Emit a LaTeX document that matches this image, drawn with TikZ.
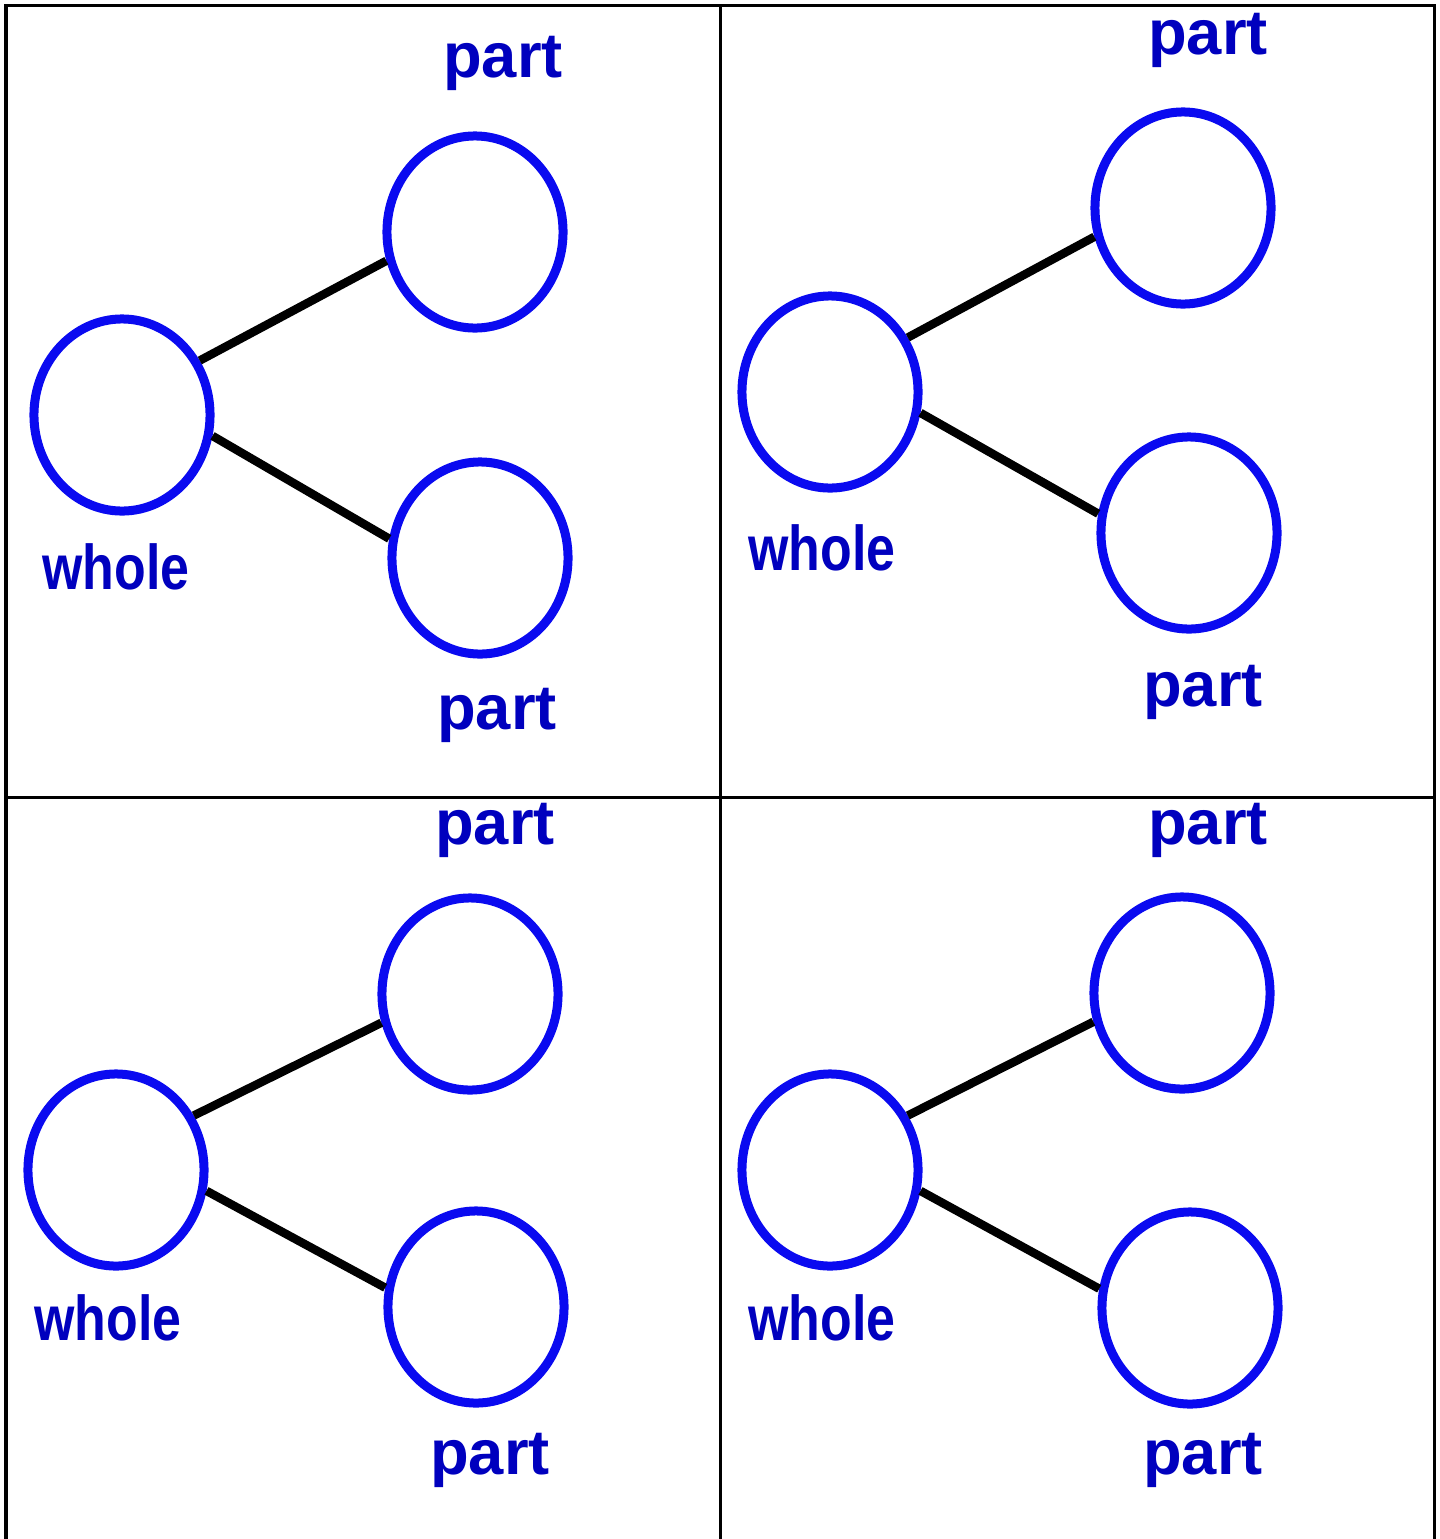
\documentclass[tikz,border=0pt]{standalone}
\usepackage{fontspec}
\setmainfont{Liberation Sans}
\usetikzlibrary{shapes.geometric}
\definecolor{ringblue}{RGB}{10,10,240}
\definecolor{textblue}{RGB}{0,0,190}
\begin{document}
\begin{tikzpicture}[x=0.01cm, y=-0.01cm,
                    Ring/.style={draw=ringblue, line width=0.09cm, ellipse, inner sep=0,
                                 minimum width=1.76cm, minimum height=1.92cm},
                    bond/.style={line width=0.085cm, black},
                    ring_label/.style={text=textblue, inner sep=0,
                                       font=\fontsize{18}{18}\selectfont\bfseries}
                    ]
        \useasboundingbox (0,0) rectangle (1440,1539);
        % table grid
        \draw[line width=0.03cm] (6,1539) -- (6,5) -- (1434,5) -- (1434,1539);
        \draw[line width=0.03cm] (720,5) -- (720,1539);
        \draw[line width=0.03cm] (6,797) -- (1434,797);

        \foreach \n/\wx/\wy/\ux/\uy/\lx/\ly/\tx/\ty/\hx/\hy/\bx/\by in
            {1/122/415/475/232/480/558/503/63/116/567/497/715,
             2/830/392/1183/208/1189/533/1208/40/822/548/1203/692,
             3/116/1170/470/994/476/1307/495/830/108/1318/490/1460,
             4/830/1170/1182/993/1190/1308/1208/830/822/1318/1203/1460} {
            \node[Ring] (W\n) at (\wx,\wy) {};
            \node[Ring] (U\n) at (\ux,\uy) {};
            \node[Ring] (L\n) at (\lx,\ly) {};
            \node[ring_label] (Tp\n) at (\tx,\ty) {part};
            \node[ring_label, xscale=0.82] (Wh\n) at (\hx,\hy) {whole};
            \node[ring_label] (Bp\n) at (\bx,\by) {part};
            \draw[bond] (W\n.35) -- (U\n.198);
            \draw[bond] (W\n.-13) -- (L\n.168);
        }
    \end{tikzpicture}
\end{document}
